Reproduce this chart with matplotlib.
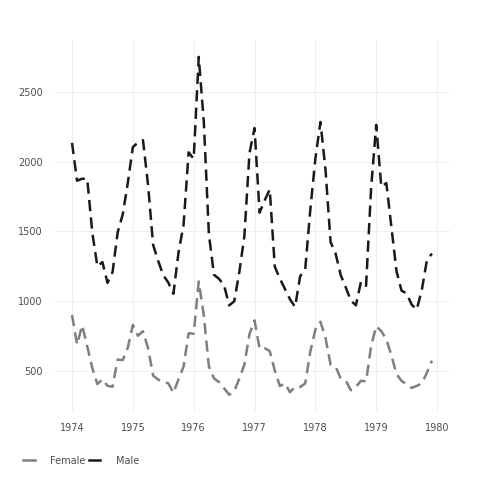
import numpy as np
import matplotlib
matplotlib.use("Agg")
import matplotlib.pyplot as plt
from matplotlib.lines import Line2D

# deces mensuels 1974-1979
male = [2134, 1863, 1877, 1877, 1492, 1249, 1280, 1131, 1209, 1492, 1621, 1846,
        2103, 2137, 2153, 1833, 1403, 1288, 1186, 1133, 1053, 1347, 1545, 2066,
        2020, 2750, 2283, 1479, 1189, 1160, 1113, 970, 999, 1208, 1467, 2059,
        2240, 1634, 1722, 1801, 1246, 1162, 1087, 1013, 959, 1179, 1229, 1655,
        2019, 2284, 1942, 1423, 1340, 1187, 1098, 1004, 970, 1140, 1110, 1812,
        2263, 1820, 1846, 1531, 1215, 1075, 1056, 975, 940, 1081, 1294, 1341]
female = [901, 689, 827, 677, 522, 406, 441, 393, 387, 582, 578, 666,
          830, 752, 785, 664, 467, 438, 421, 412, 343, 440, 531, 771,
          767, 1141, 896, 532, 447, 420, 376, 330, 357, 445, 546, 764,
          862, 660, 663, 643, 502, 392, 411, 348, 387, 385, 411, 638,
          796, 853, 737, 546, 530, 446, 431, 362, 387, 430, 425, 679,
          821, 785, 727, 612, 478, 429, 405, 379, 393, 411, 487, 574]
start_year = 1974
x_ticks = [1974, 1975, 1976, 1977, 1978, 1979, 1980]
y_ticks = [500, 1000, 1500, 2000, 2500]

t = start_year + np.arange(len(male)) / 12

fig = plt.figure(figsize=(4.8, 4.8), dpi=100)
ax = fig.add_axes([0.1125, 0.1425, 0.825, 0.7742])

dash = (0, (4.5, 2.5))
ax.plot(t, female, color="#7f7f7f", lw=1.8, linestyle=dash)
ax.plot(t, male, color="#1a1a1a", lw=1.8, linestyle=dash)

ax.set_xlim(1973.704, 1980.213)
ax.set_ylim(209, 2871)
ax.set_xticks(x_ticks)
ax.set_yticks(y_ticks)
ax.grid(True, color="#ececec", lw=0.6)
ax.set_axisbelow(True)
for s in ax.spines.values():
    s.set_visible(False)
ax.tick_params(length=0, labelsize=7, labelcolor="#4d4d4d", pad=8)

handles = [Line2D([], [], color="#7f7f7f", lw=1.8),
           Line2D([], [], color="#1a1a1a", lw=1.8)]
fig.legend(handles, ["Female", "Male"], loc="center left", bbox_to_anchor=(0.03, 0.04),
           ncol=2, frameon=False, fontsize=7, handlelength=1.2, handletextpad=1.6,
           columnspacing=0.3, labelcolor="#4d4d4d")

fig.savefig("out.png", dpi=100, facecolor="white")
